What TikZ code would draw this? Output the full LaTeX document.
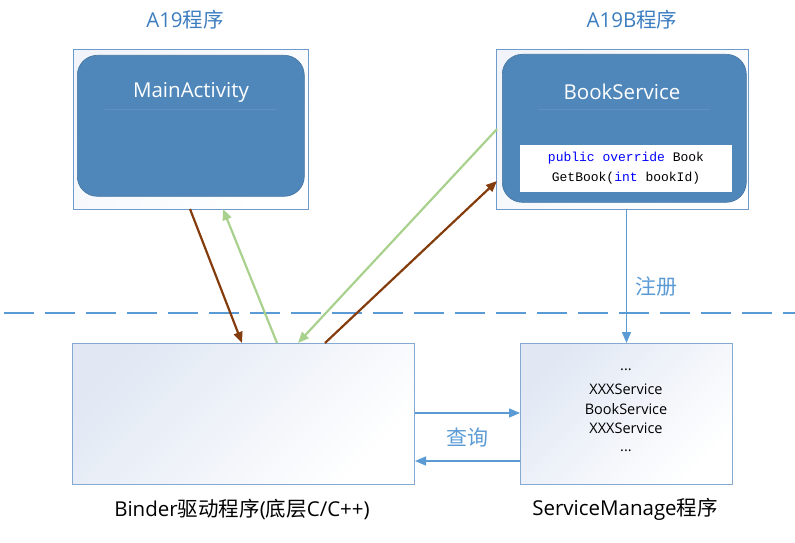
\documentclass[tikz,border=0pt]{standalone}
\usepackage{fontspec}
\setmainfont{Open Sans}
\newfontfamily\cjk{Noto Sans CJK SC}
\newfontfamily\codefont{Liberation Mono}
\usetikzlibrary{arrows.meta,calc}
\definecolor{boxblue}{HTML}{4F87BB}
\definecolor{edgeblue}{HTML}{6E9BCB}
\definecolor{lineblue}{HTML}{5B9BD5}
\definecolor{titleblue}{HTML}{3C7DC0}
\definecolor{brownarr}{HTML}{843C0C}
\definecolor{greenarr}{HTML}{A9D18E}
\definecolor{lightfill}{HTML}{DCE4F2}
\definecolor{codeblue}{HTML}{0000FF}
\tikzset{
  outerbox/.style={draw=edgeblue, line width=0.9pt, anchor=north west, inner sep=0pt, shading=axis, top color=lightfill!40, bottom color=white, shading angle=45},
  innerbox/.style={draw=boxblue!85!black, line width=0.6pt, fill=boxblue, rounded corners=20pt, anchor=north west, inner sep=0pt},
  lowbox/.style={draw=edgeblue!85, line width=1pt, anchor=north west, inner sep=0pt, shading=axis, top color=lightfill!85, bottom color=white, shading angle=45},
  tip/.style={-{Triangle[length=11pt,width=9pt]}},
  brownline/.style={tip, draw=brownarr, fill=brownarr, line width=2.2pt},
  greenline/.style={tip, draw=greenarr, fill=greenarr, line width=2.2pt},
  blueline/.style={tip, draw=lineblue, line width=1.4pt},
  title/.style={text=titleblue, font=\fontsize{20.5}{22}\selectfont},
  label/.style={text=black, font=\fontsize{20.5}{22}\selectfont},
}
\begin{document}
\begin{tikzpicture}[x=1pt,y=-1pt]
\useasboundingbox (0,0) rectangle (795,543);
% titles
\node[title] (t1) at (185,20) {A19{\cjk 程序}};
\node[title] (t2) at (632,20) {A19B{\cjk 程序}};
% left app
\node[outerbox, minimum width=235pt, minimum height=160pt] (A) at (73,49) {};
\node[innerbox, minimum width=227pt, minimum height=141pt] (MA) at (77,55) {};
\node[text=white, font=\fontsize{20.5}{22}\selectfont] (MAt) at (191,92) {MainActivity};
\draw[boxblue!92!white, line width=1pt] (105,109) -- (277,109);
% right app
\node[outerbox, minimum width=252pt, minimum height=160pt] (B) at (496,49) {};
\node[innerbox, minimum width=244pt, minimum height=148pt] (BS) at (502,54) {};
\node[text=white, font=\fontsize{20.5}{22}\selectfont] (BSt) at (622,92) {BookService};
\draw[boxblue!92!white, line width=1pt] (538,109) -- (710,109);
\node[fill=white, draw=none, minimum width=212pt, minimum height=47pt, inner sep=0pt, align=center,
      font=\codefont\fontsize{13}{20}\selectfont] (code) at (626,168.5)
  {\textcolor{codeblue}{public override} Book\\GetBook(\textcolor{codeblue}{int} bookId)};
% dashed separator
\coordinate (dl) at (0,313);
\coordinate (dr) at (795,313);
\draw[lineblue, line width=1.3pt, dash pattern=on 30pt off 11pt, dash phase=-4pt] (dl) -- (dr);
% lower boxes
\node[lowbox, minimum width=342pt, minimum height=141pt] (D) at (72,343) {};
\node[label] (Dt) at (242,509) {Binder{\cjk 驱动程序}({\cjk 底层}C/C++)};
\node[lowbox, minimum width=212pt, minimum height=141pt] (SM) at (520,343) {};
\node[label] (SMt) at (625,509) {ServiceManage{\cjk 程序}};
\node[font=\fontsize{14.5}{19.5}\selectfont, align=center, inner sep=0pt] (list) at (626,410.5)
  {...\\[4.5pt]XXXService\\BookService\\XXXService\\[-1.5pt]...};
% connectors
\coordinate (a1) at (190,209);
\coordinate (a2) at (242,343);
\draw[brownline] (a1) -- (a2);
\coordinate (g1) at (277,343);
\coordinate (g2) at (223,209);
\draw[greenline] (g1) -- (g2);
\coordinate (g3) at (497,129);
\coordinate (g4) at (298,343);
\draw[greenline] (g3) -- (g4);
\coordinate (r1) at (325,343);
\coordinate (r2) at (497,181);
\draw[brownline] (r1) -- (r2);
\draw[blueline] (B.south -| SM.north) -- (SM.north);
\node[text=lineblue, font=\cjk\fontsize{21}{22}\selectfont] (reg) at (656,287) {注册};
\draw[blueline] (D.east |- 0,413) -- (SM.west |- 0,413);
\draw[blueline] (SM.west |- 0,461) -- (D.east |- 0,461);
\node[text=lineblue, font=\cjk\fontsize{21}{22}\selectfont] (q) at (467,437) {查询};
\end{tikzpicture}
\end{document}
